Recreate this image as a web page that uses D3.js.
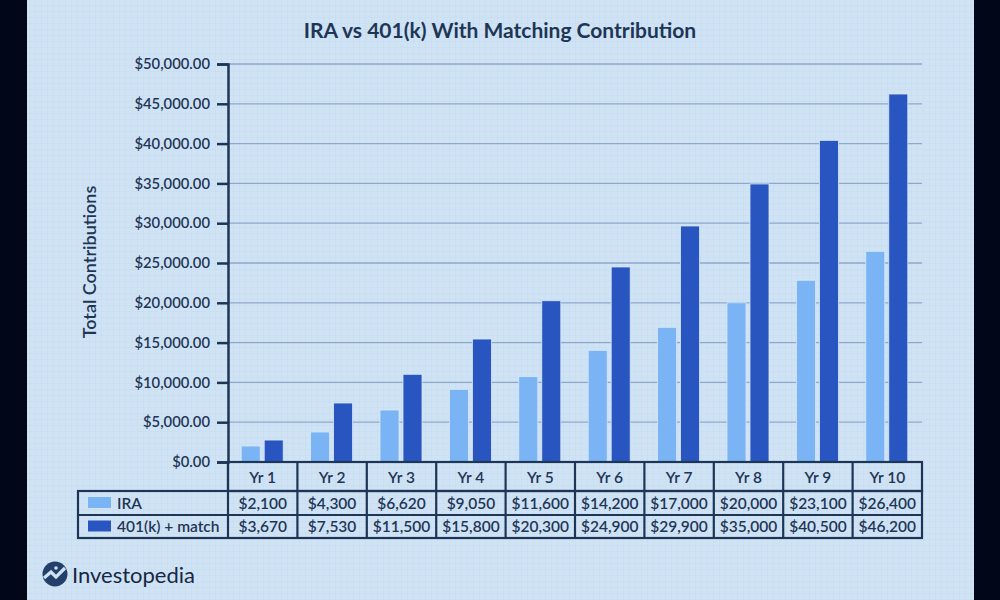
<!DOCTYPE html>
<html><head><meta charset="utf-8">
<script src="https://cdn.jsdelivr.net/npm/d3@7"></script>
<style>html,body{margin:0;padding:0;background:#010619;}svg{display:block;}</style>
</head><body>
<svg id="c" width="1000" height="600"></svg>
<script>
const years = ["Yr 1","Yr 2","Yr 3","Yr 4","Yr 5","Yr 6","Yr 7","Yr 8","Yr 9","Yr 10"];
// bar heights as drawn
const iraBars = [2010,3770,6530,9130,10720,14030,16920,20000,22830,26470];
const k401Bars = [2760,7410,11020,15450,20260,24500,29650,34930,40410,46230];
// table values
const iraTable = ["$2,100","$4,300","$6,620","$9,050","$11,600","$14,200","$17,000","$20,000","$23,100","$26,400"];
const k401Table = ["$3,670","$7,530","$11,500","$15,800","$20,300","$24,900","$29,900","$35,000","$40,500","$46,200"];
const seriesNames = ["IRA","401(k) + match"];
const yTicks = [0,5000,10000,15000,20000,25000,30000,35000,40000,45000,50000];

const NAVY="#1e3656", C_IRA="#7ab4f5", C_K="#2955c0";
const FONT="Lato, 'Open Sans', sans-serif";
const svg=d3.select("#c");
const defs=svg.append("defs");
const pat=defs.append("pattern").attr("id","grid").attr("width",6).attr("height",6).attr("patternUnits","userSpaceOnUse");
pat.append("rect").attr("width",6).attr("height",6).attr("fill","#d0e3f5");
pat.append("path").attr("d","M6 0V6M0 6H6").attr("stroke","#c6dbf0").attr("stroke-width",1);

svg.append("rect").attr("x",27).attr("y",0).attr("width",947).attr("height",600).attr("fill","url(#grid)");

const x=d3.scaleBand().domain(years).range([228,922]).padding(0);
const y=d3.scaleLinear().domain([0,50000]).range([462,64]);
const bw=x.bandwidth();

// title
svg.append("text").attr("x",500).attr("y",38).attr("text-anchor","middle")
  .attr("font-family",FONT).attr("font-weight",700).attr("font-size",21).attr("fill",NAVY)
  .text("IRA vs 401(k) With Matching Contribution");

// gridlines
svg.append("g").selectAll("line").data(yTicks.slice(1)).join("line")
  .attr("x1",228).attr("x2",922).attr("y1",d=>y(d)).attr("y2",d=>y(d))
  .attr("stroke","#8ea8cc").attr("stroke-width",1.3);

// y axis
const ax=svg.append("g").attr("transform","translate(228,0)")
  .call(d3.axisLeft(y).tickValues(yTicks).tickFormat(d3.format("$,.2f")).tickSize(11).tickPadding(7));
ax.select(".domain").attr("stroke",NAVY).attr("stroke-width",2.5);
ax.selectAll(".tick line").attr("stroke",NAVY).attr("stroke-width",2.5);
ax.selectAll(".tick text").attr("fill",NAVY).attr("font-family",FONT).attr("font-size",14.8).attr("font-weight",600);

svg.append("text").attr("transform","translate(96,262) rotate(-90)").attr("text-anchor","middle")
  .attr("font-family",FONT).attr("font-size",18).attr("font-weight",600).attr("fill",NAVY).text("Total Contributions");

// bars
const g=svg.append("g");
g.selectAll(".ira").data(iraBars).join("rect")
  .attr("x",(d,i)=>x(years[i])+bw/2-21.5).attr("width",19)
  .attr("y",d=>y(d)).attr("height",d=>y(0)-y(d))
  .attr("fill",C_IRA).attr("stroke","#d6e7fa").attr("stroke-width",0.8);
g.selectAll(".k").data(k401Bars).join("rect")
  .attr("x",(d,i)=>x(years[i])+bw/2+1.5).attr("width",19)
  .attr("y",d=>y(d)).attr("height",d=>y(0)-y(d))
  .attr("fill",C_K).attr("stroke","#d6e7fa").attr("stroke-width",0.8);

// table
const t=svg.append("g");
const sw=2.2;
const TF=15.5;
t.append("rect").attr("x",228).attr("y",462).attr("width",694).attr("height",29).attr("fill","none").attr("stroke",NAVY).attr("stroke-width",sw);
t.append("rect").attr("x",78).attr("y",491).attr("width",844).attr("height",47).attr("fill","none").attr("stroke",NAVY).attr("stroke-width",sw);
t.append("line").attr("x1",78).attr("x2",922).attr("y1",515).attr("y2",515).attr("stroke",NAVY).attr("stroke-width",sw);
t.selectAll(".vl").data(years).join("line").attr("x1",d=>x(d)).attr("x2",d=>x(d)).attr("y1",462).attr("y2",538).attr("stroke",NAVY).attr("stroke-width",sw);
t.selectAll(".yl").data(years).join("text").attr("x",d=>x(d)+bw/2).attr("y",482.5).attr("text-anchor","middle")
  .attr("font-family",FONT).attr("font-size",TF).attr("font-weight",600).attr("fill",NAVY).text(d=>d);
[iraTable,k401Table].forEach((arr,r)=>{
  t.selectAll(".r"+r).data(arr).join("text").attr("x",(d,i)=>x(years[i])+bw/2).attr("y",508.5+r*23.5).attr("text-anchor","middle")
   .attr("font-family",FONT).attr("font-size",TF).attr("font-weight",600).attr("fill",NAVY).text(d=>d);
});
seriesNames.forEach((n,r)=>{
  t.append("rect").attr("x",88).attr("y",497+r*23.5).attr("width",23).attr("height",11).attr("fill",r?C_K:C_IRA);
  t.append("text").attr("x",117).attr("y",508.5+r*23.5).attr("font-family",FONT).attr("font-size",TF).attr("font-weight",600).attr("fill",NAVY).text(n);
});

// logo
const lg=svg.append("g").attr("transform","translate(55,574)");
lg.append("circle").attr("r",12.5).attr("fill","#23406a");
lg.append("path").attr("d","M-11 4 L-4 -2 L1 3 L10 -6").attr("stroke","#d0e3f5").attr("stroke-width",3.2).attr("fill","none");
lg.append("circle").attr("cx",1).attr("cy",-6).attr("r",1.8).attr("fill","#d0e3f5");
svg.append("text").attr("x",72).attr("y",583).attr("font-family","Lato, sans-serif").attr("font-size",22).attr("fill","#172844").text("Investopedia");
</script>
</body></html>
